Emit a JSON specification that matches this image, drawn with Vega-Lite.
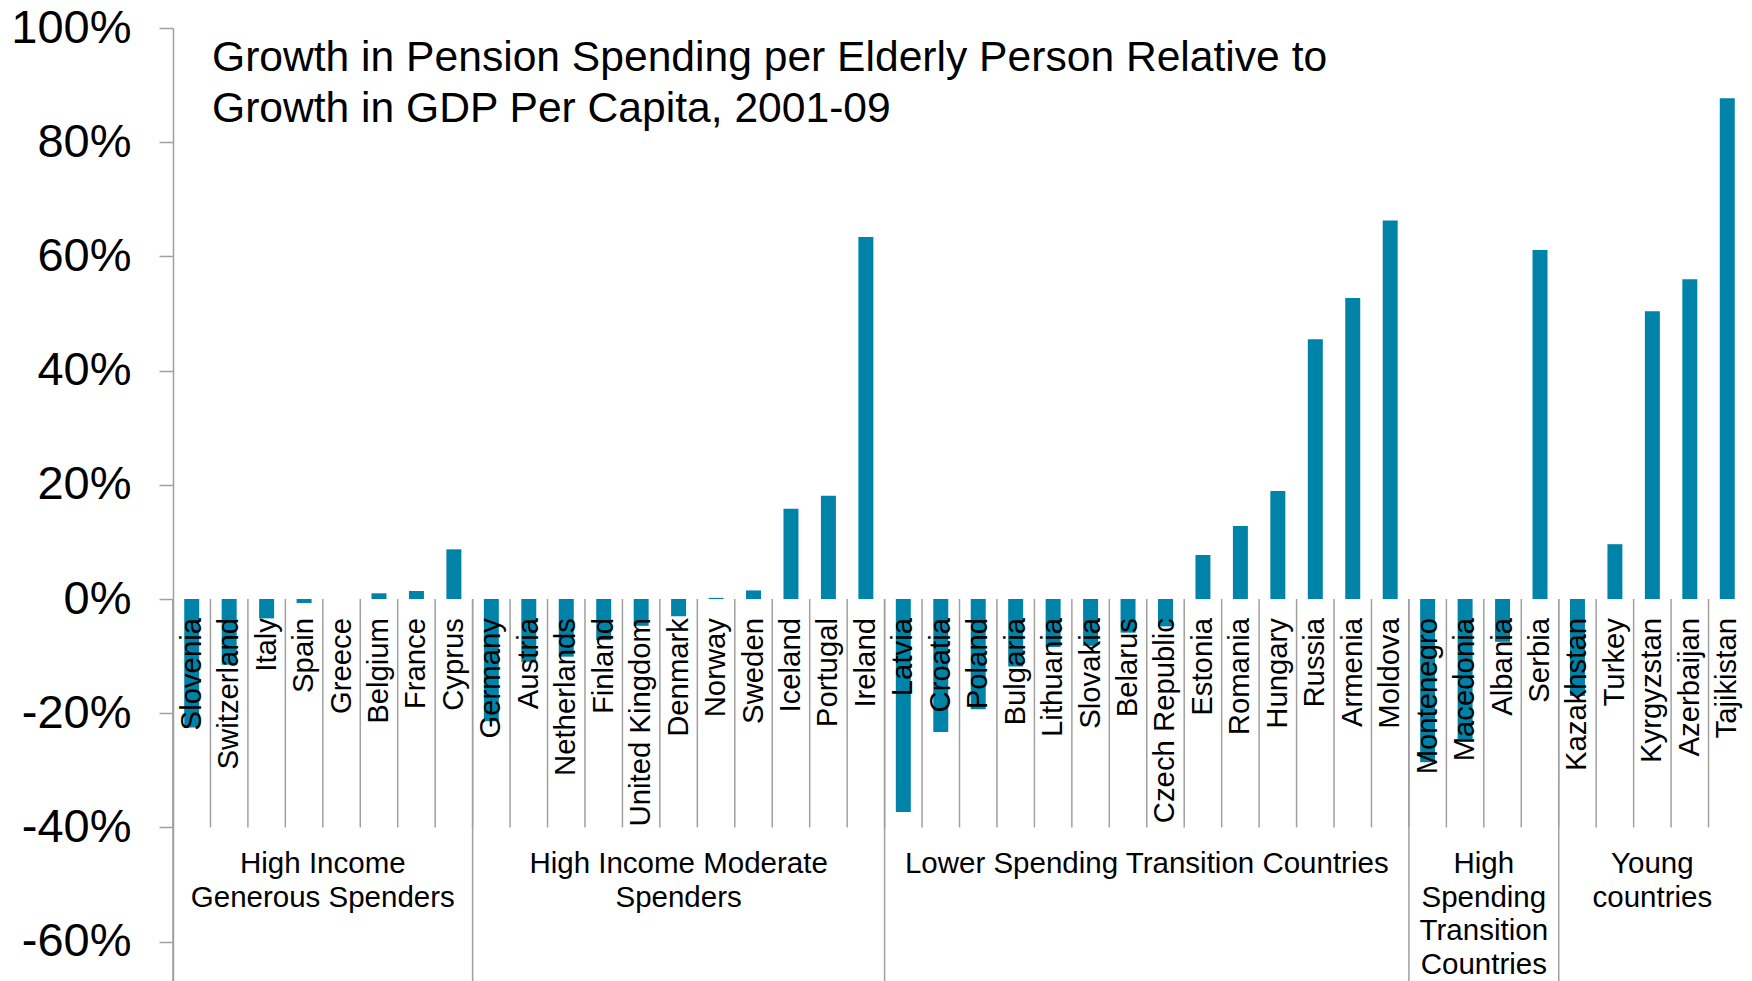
{
  "$schema": "https://vega.github.io/schema/vega-lite/v6.json",
  "autosize": {"type": "none"},
  "padding": {"left": 173, "top": 28, "right": 6, "bottom": 0},
  "width": 1573,
  "height": 953,
  "background": "white",
  "config": {"view": {"stroke": null}, "font": "Liberation Sans"},
  "title": {
    "text": ["Growth in Pension Spending per Elderly Person Relative to", "Growth in GDP Per Capita, 2001-09"],
    "anchor": "start", "frame": "group", "orient": "top", "baseline": "top",
    "offset": -127, "dx": 39, "fontSize": 42.6, "fontWeight": "normal",
    "font": "Liberation Sans", "color": "black", "lineHeight": 51
  },
  "datasets": {
    "countries": [
      {"country": "Slovenia", "group": "High Income Generous Spenders", "value": -0.225},
      {"country": "Switzerland", "group": "High Income Generous Spenders", "value": -0.115},
      {"country": "Italy", "group": "High Income Generous Spenders", "value": -0.034},
      {"country": "Spain", "group": "High Income Generous Spenders", "value": -0.007},
      {"country": "Greece", "group": "High Income Generous Spenders", "value": 0.0},
      {"country": "Belgium", "group": "High Income Generous Spenders", "value": 0.010},
      {"country": "France", "group": "High Income Generous Spenders", "value": 0.014},
      {"country": "Cyprus", "group": "High Income Generous Spenders", "value": 0.087},
      {"country": "Germany", "group": "High Income Moderate Spenders", "value": -0.214},
      {"country": "Austria", "group": "High Income Moderate Spenders", "value": -0.110},
      {"country": "Netherlands", "group": "High Income Moderate Spenders", "value": -0.101},
      {"country": "Finland", "group": "High Income Moderate Spenders", "value": -0.072},
      {"country": "United Kingdom", "group": "High Income Moderate Spenders", "value": -0.047},
      {"country": "Denmark", "group": "High Income Moderate Spenders", "value": -0.030},
      {"country": "Norway", "group": "High Income Moderate Spenders", "value": 0.002},
      {"country": "Sweden", "group": "High Income Moderate Spenders", "value": 0.015},
      {"country": "Iceland", "group": "High Income Moderate Spenders", "value": 0.158},
      {"country": "Portugal", "group": "High Income Moderate Spenders", "value": 0.181},
      {"country": "Ireland", "group": "High Income Moderate Spenders", "value": 0.634},
      {"country": "Latvia", "group": "Lower Spending Transition Countries", "value": -0.373},
      {"country": "Croatia", "group": "Lower Spending Transition Countries", "value": -0.233},
      {"country": "Poland", "group": "Lower Spending Transition Countries", "value": -0.193},
      {"country": "Bulgaria", "group": "Lower Spending Transition Countries", "value": -0.118},
      {"country": "Lithuania", "group": "Lower Spending Transition Countries", "value": -0.084},
      {"country": "Slovakia", "group": "Lower Spending Transition Countries", "value": -0.082},
      {"country": "Belarus", "group": "Lower Spending Transition Countries", "value": -0.059},
      {"country": "Czech Republic", "group": "Lower Spending Transition Countries", "value": -0.048},
      {"country": "Estonia", "group": "Lower Spending Transition Countries", "value": 0.077},
      {"country": "Romania", "group": "Lower Spending Transition Countries", "value": 0.128},
      {"country": "Hungary", "group": "Lower Spending Transition Countries", "value": 0.189},
      {"country": "Russia", "group": "Lower Spending Transition Countries", "value": 0.455},
      {"country": "Armenia", "group": "Lower Spending Transition Countries", "value": 0.527},
      {"country": "Moldova", "group": "Lower Spending Transition Countries", "value": 0.663},
      {"country": "Montenegro", "group": "High Spending Transition Countries", "value": -0.286},
      {"country": "Macedonia", "group": "High Spending Transition Countries", "value": -0.246},
      {"country": "Albania", "group": "High Spending Transition Countries", "value": -0.075},
      {"country": "Serbia", "group": "High Spending Transition Countries", "value": 0.611},
      {"country": "Kazakhstan", "group": "Young countries", "value": -0.170},
      {"country": "Turkey", "group": "Young countries", "value": 0.096},
      {"country": "Kyrgyzstan", "group": "Young countries", "value": 0.504},
      {"country": "Azerbaijan", "group": "Young countries", "value": 0.560},
      {"country": "Tajikistan", "group": "Young countries", "value": 0.877}
    ],
    "groups": [
      {"country": "Slovenia", "mid": "Greece", "even": true, "label": "High Income\nGenerous Spenders"},
      {"country": "Germany", "mid": "Denmark", "even": false, "label": "High Income Moderate\nSpenders"},
      {"country": "Latvia", "mid": "Czech Republic", "even": true, "label": "Lower Spending Transition Countries"},
      {"country": "Montenegro", "mid": "Albania", "even": true, "label": "High\nSpending\nTransition\nCountries"},
      {"country": "Kazakhstan", "mid": "Kyrgyzstan", "even": false, "label": "Young\ncountries"}
    ]
  },
  "layer": [
    {
      "data": {"name": "countries"},
      "mark": {"type": "bar", "color": "#0083a9", "width": {"band": 0.4}},
      "encoding": {
        "x": {
          "field": "country", "type": "nominal",
          "scale": {"domain": ["Slovenia","Switzerland","Italy","Spain","Greece","Belgium","France","Cyprus","Germany","Austria","Netherlands","Finland","United Kingdom","Denmark","Norway","Sweden","Iceland","Portugal","Ireland","Latvia","Croatia","Poland","Bulgaria","Lithuania","Slovakia","Belarus","Czech Republic","Estonia","Romania","Hungary","Russia","Armenia","Moldova","Montenegro","Macedonia","Albania","Serbia","Kazakhstan","Turkey","Kyrgyzstan","Azerbaijan","Tajikistan"], "paddingInner": 0, "paddingOuter": 0},
          "axis": {
            "orient": "bottom", "offset": -382, "ticks": false, "labels": false,
            "domainColor": "#a0a0a0", "domainWidth": 1.5,
            "title": null, "zindex": 1
          }
        },
        "y": {
          "field": "value", "type": "quantitative",
          "scale": {"domain": [-0.669, 1.0], "nice": false, "zero": false},
          "axis": {
            "values": [-0.6, -0.4, -0.2, 0, 0.2, 0.4, 0.6, 0.8, 1.0],
            "format": ".0%",
            "labelExpr": "replace(datum.label, '\u2212', '-')",
            "grid": false, "domainColor": "#a0a0a0", "domainWidth": 1.5,
            "tickColor": "#a0a0a0", "tickWidth": 1.5, "tickSize": 14,
            "labelPadding": 28, "labelFontSize": 47, "labelFont": "Liberation Sans",
            "labelColor": "black", "labelOverlap": false, "title": null, "zindex": 1
          }
        }
      }
    },
    {
      "data": {"name": "countries"},
      "mark": {"type": "rule", "color": "#a0a0a0", "strokeWidth": 1.5},
      "encoding": {
        "x": {"field": "country", "type": "nominal", "bandPosition": 0, "axis": null},
        "y": {"datum": 0},
        "y2": {"datum": -0.4}
      }
    },
    {
      "data": {"name": "groups"},
      "mark": {"type": "rule", "color": "#a0a0a0", "strokeWidth": 1.5},
      "encoding": {
        "x": {"field": "country", "type": "nominal", "bandPosition": 0, "axis": null},
        "y": {"datum": 0},
        "y2": {"datum": -0.669}
      }
    },
    {
      "data": {"name": "countries"},
      "mark": {"type": "text", "fontSize": 29.3, "font": "Liberation Sans", "color": "black", "angle": 270, "align": "right", "baseline": "middle", "dx": -19},
      "encoding": {
        "x": {"field": "country", "type": "nominal", "axis": null},
        "y": {"datum": 0},
        "text": {"field": "country"}
      }
    },
    {
      "data": {"name": "groups"},
      "transform": [{"filter": "datum.even"}],
      "mark": {"type": "text", "fontSize": 29.5, "font": "Liberation Sans", "color": "black", "baseline": "top", "align": "center", "lineBreak": "\n", "lineHeight": 33.5, "dy": 23},
      "encoding": {
        "x": {"field": "mid", "type": "nominal", "bandPosition": 0, "axis": null},
        "y": {"datum": -0.4},
        "text": {"field": "label"}
      }
    },
    {
      "data": {"name": "groups"},
      "transform": [{"filter": "!datum.even"}],
      "mark": {"type": "text", "fontSize": 29.5, "font": "Liberation Sans", "color": "black", "baseline": "top", "align": "center", "lineBreak": "\n", "lineHeight": 33.5, "dy": 23},
      "encoding": {
        "x": {"field": "mid", "type": "nominal", "bandPosition": 0.5, "axis": null},
        "y": {"datum": -0.4},
        "text": {"field": "label"}
      }
    }
  ]
}
